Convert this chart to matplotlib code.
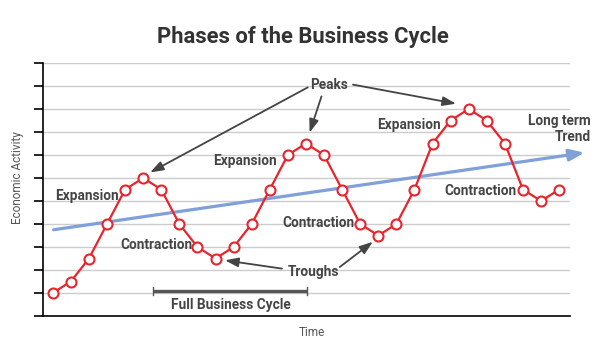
import matplotlib
matplotlib.use("Agg")
import matplotlib.pyplot as plt
import numpy as np

title = "Phases of the Business Cycle"
x_label = "Time"
y_label = "Economic Activity"

activity = [1.0, 1.5, 2.5, 4.0, 5.5, 6.0, 5.5, 4.0, 3.0, 2.5, 3.0, 4.0, 5.5, 7.0, 7.5,
            7.0, 5.5, 4.0, 3.5, 4.0, 5.5, 7.5, 8.5, 9.0, 8.5, 7.5, 5.5, 5.0, 5.5]
trend_start = (0.05, 3.75)
trend_end = (29.4, 7.1)

phase_labels = ["Expansion", "Expansion", "Expansion", "Contraction", "Contraction", "Contraction"]
phase_pos = [(1.9, 5.23), (10.63, 6.75), (19.68, 8.32), (5.76, 3.1), (14.71, 4.06), (23.66, 5.45)]

peaks_text_pos = (15.3, 10.05)
peak_arrows = [((14.1, 9.94), (5.38, 6.24)), ((14.86, 9.55), (14.2, 7.97)), ((16.6, 10.06), (22.3, 9.23))]
troughs_text_pos = (14.4, 1.93)
trough_arrows = [((12.67, 2.06), (9.52, 2.42)), ((15.87, 2.13), (17.7, 3.23))]
cycle_span = (5.54, 14.05)
cycle_y = 1.07

BOLD = ['Roboto', 'DejaVu Sans']
TXT = '#444444'
LBL = 9.8

fig = plt.figure(figsize=(6, 3.6), dpi=100)
ax = fig.add_axes([43/600, 1-316/360, (570-43)/600, (316-63)/360])
x = np.arange(len(activity))
ax.set_xlim(-0.54, 28.6)
ax.set_ylim(0, 11)
ax.set_yticks(np.arange(0, 12))
ax.set_yticklabels([])
ax.set_xticks([])
for yv in range(1, 12):
    ax.axhline(yv, color='#cccccc', lw=1.0, zorder=0)
for s in ['top', 'right']:
    ax.spines[s].set_visible(False)
ax.spines['left'].set_linewidth(1.2)
ax.spines['bottom'].set_linewidth(1.2)
ax.tick_params(axis='y', length=6.5, width=1.2, direction='out')

# trend arrow
ax.annotate('', xy=trend_end, xytext=trend_start, annotation_clip=False,
            arrowprops=dict(arrowstyle='-|>,head_length=0.9,head_width=0.35', color='#7fa0d8',
                            lw=2.3, shrinkA=0, shrinkB=0), zorder=2)

ax.plot(x, activity, color='#e8242c', lw=1.6, marker='o', markersize=7.2,
        markerfacecolor='white', markeredgecolor='#e8242c', markeredgewidth=1.5,
        zorder=3, clip_on=False)

for lab, (px, py) in zip(phase_labels, phase_pos):
    ax.text(px, py, lab, ha='center', va='center', fontsize=LBL, fontweight='bold',
            family=BOLD, color=TXT, zorder=4)

ax.text(*peaks_text_pos, "Peaks", ha='center', va='center', fontsize=LBL, fontweight='bold',
        family=BOLD, color=TXT)
for start, end in peak_arrows:
    ax.annotate('', xy=end, xytext=start,
                arrowprops=dict(arrowstyle='-|>,head_length=0.8,head_width=0.28', color='#444444',
                                lw=1.3, shrinkA=0, shrinkB=0))
ax.text(*troughs_text_pos, "Troughs", ha='center', va='center', fontsize=LBL, fontweight='bold',
        family=BOLD, color=TXT)
for start, end in trough_arrows:
    ax.annotate('', xy=end, xytext=start,
                arrowprops=dict(arrowstyle='-|>,head_length=0.8,head_width=0.28', color='#444444',
                                lw=1.3, shrinkA=0, shrinkB=0))

ax.text(29.77, 8.14, "Long term\nTrend", ha='right', va='center', fontsize=LBL, fontweight='bold',
        family=BOLD, color=TXT, linespacing=1.15, clip_on=False)

ax.plot(cycle_span, [cycle_y, cycle_y], color='#555555', lw=2.4, solid_capstyle='butt', zorder=4)
for xv in cycle_span:
    ax.plot([xv, xv], [cycle_y - 0.17, cycle_y + 0.17], color='#555555', lw=1.0, zorder=4)
ax.text((cycle_span[0] + cycle_span[1]) / 2 + 0.05, 0.49, "Full Business Cycle", ha='center',
        va='center', fontsize=LBL, fontweight='bold', family=BOLD, color=TXT)

fig.text(303/600, 1-37/360, title, ha='center', va='center', fontsize=15.8, fontweight='bold',
         family=['Roboto', 'DejaVu Sans'], color='#333333')
fig.text(312/600, 1-333/360, x_label, ha='center', va='center', fontsize=8.5,
         family=['Roboto', 'DejaVu Sans'], color='#555555')
fig.text(18/600, 1-178/360, y_label, ha='center', va='center', fontsize=8.5, rotation=90,
         family=['Roboto', 'DejaVu Sans'], color='#555555')

fig.savefig('out.png', dpi=100)
